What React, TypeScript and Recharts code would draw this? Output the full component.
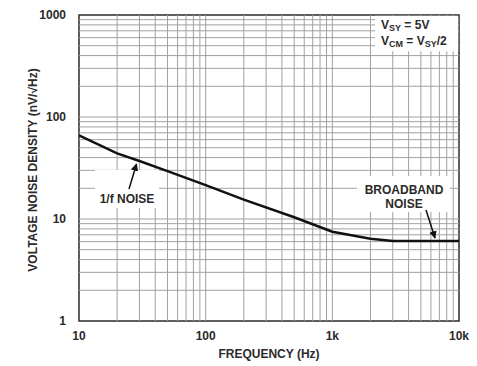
import { LineChart, Line, XAxis, YAxis, ReferenceLine, ReferenceArea } from "recharts";

// voltage noise density vs frequency
const freqHz = [10, 20, 30, 50, 100, 200, 500, 1000, 2000, 3000, 10000];
const noiseDensity = [66, 44, 37, 29.5, 21.5, 15.5, 10.4, 7.5, 6.4, 6.1, 6.1];

const xTicks = [10, 100, 1000, 10000];
const xTickLabels = ["10", "100", "1k", "10k"];
const yTicks = [1, 10, 100, 1000];

const xDecades = [10, 100, 1000];
const yDecades = [1, 10, 100];
const multiples = [1, 2, 3, 4, 5, 6, 7, 8, 9];

const data = freqHz.map((f, i) => ({ f, v: noiseDensity[i] }));

const xGrid = xDecades.flatMap(d => multiples.map(m => d * m)).filter(v => v > 10);
const yGrid = yDecades.flatMap(d => multiples.map(m => d * m)).filter(v => v > 1);

const FONT = "'Liberation Sans', Arial, sans-serif";
const GRID = "#a0a0a0";
const INK = "#2a2a2a";

const tickStyle = { fontFamily: FONT, fontSize: 12, fontWeight: 700, fill: INK };

export default function App() {
    return (
        <div style={{ position: "absolute", left: 0, top: 0, width: 477, height: 366, background: "#fff" }}>
            <LineChart width={477} height={366} data={data} margin={{ top: 15, right: 18, bottom: 0, left: 0 }}>
                <XAxis
                    dataKey="f"
                    type="number"
                    scale="log"
                    domain={[10, 10000]}
                    allowDataOverflow
                    ticks={xTicks}
                    tickFormatter={v => xTickLabels[xTicks.indexOf(v)] ?? String(v)}
                    axisLine={false}
                    tickLine={false}
                    tickMargin={4}
                    height={45}
                    tick={tickStyle}
                    interval={0}
                />
                <YAxis
                    type="number"
                    scale="log"
                    domain={[1, 1000]}
                    allowDataOverflow
                    ticks={yTicks}
                    axisLine={false}
                    tickLine={false}
                    tickMargin={7}
                    width={79}
                    tick={tickStyle}
                    interval={0}
                />
                {xGrid.map(v => (
                    <ReferenceLine key={"x" + v} x={v} stroke={GRID} strokeWidth={1} />
                ))}
                {yGrid.map(v => (
                    <ReferenceLine key={"y" + v} y={v} stroke={GRID} strokeWidth={1} />
                ))}
                <ReferenceArea x1={10} x2={10000} y1={1} y2={1000} fill="none" stroke={INK} strokeWidth={1.5} />
                <Line dataKey="v" type="linear" stroke="#111" strokeWidth={2.5} dot={false} isAnimationActive={false} />
            </LineChart>

            {/* annotations and axis titles */}
            <svg width={477} height={366} style={{ position: "absolute", left: 0, top: 0, pointerEvents: "none" }}>
                <defs>
                    <marker id="head" viewBox="0 0 10 10" refX="9" refY="5" markerWidth="5" markerHeight="5" orient="auto">
                        <path d="M0,0 L10,5 L0,10 z" fill="#111" />
                    </marker>
                </defs>
                <g fontFamily={FONT} fontWeight={700} fill={INK} fontSize={12}>
                    <rect x={375} y={15.8} width={83.2} height={35.5} fill="#fff" />
                    <text x={381} y={29}>
                        V<tspan fontSize={9} dy={2}>SY</tspan>
                        <tspan dy={-2}> = 5V</tspan>
                    </text>
                    <text x={381} y={45}>
                        V<tspan fontSize={9} dy={2}>CM</tspan>
                        <tspan dy={-2}> = V</tspan>
                        <tspan fontSize={9} dy={2}>SY</tspan>
                        <tspan dy={-2}>/2</tspan>
                    </text>

                    <rect x={95} y={170} width={64} height={38} fill="#fff" />
                    <text x={127} y={203} textAnchor="middle">1/f NOISE</text>
                    <line x1={129} y1={189} x2={136.5} y2={164} stroke="#111" strokeWidth={1.5} markerEnd="url(#head)" />

                    <rect x={357} y={176} width={93} height={36} fill="#fff" />
                    <text x={404} y={194} textAnchor="middle">BROADBAND</text>
                    <text x={404} y={208} textAnchor="middle">NOISE</text>
                    <line x1={426} y1={210} x2={435} y2={238} stroke="#111" strokeWidth={1.5} markerEnd="url(#head)" />

                    <text x={269} y={358} textAnchor="middle">FREQUENCY (Hz)</text>
                    <text x={0} y={0} textAnchor="middle" transform="translate(37,170) rotate(-90)">
                        VOLTAGE NOISE DENSITY (nV/√Hz)
                    </text>
                </g>
            </svg>
        </div>
    );
}
